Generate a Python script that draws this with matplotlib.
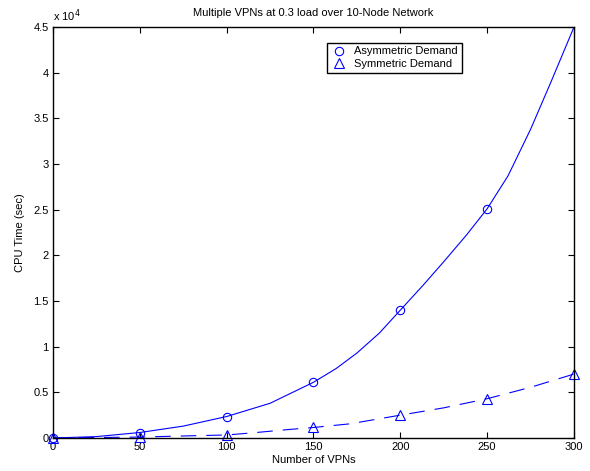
import matplotlib
matplotlib.use("Agg")
import matplotlib.pyplot as plt
from matplotlib.ticker import FuncFormatter, MultipleLocator

plt.rcParams['font.family'] = ['Liberation Sans', 'DejaVu Sans']

# measured run times (sec)
vpns = [0, 50, 100, 150, 200, 250]
asym_cpu = [0, 600, 2350, 6100, 14000, 25100]
vpns_sym = [0, 50, 100, 150, 200, 250, 300]
sym_cpu = [0, 100, 330, 1150, 2500, 4300, 7000]

# trend curves
asym_fit_x = [0, 25, 50, 75, 100, 125, 150, 163, 175, 188, 200, 213, 225, 238, 250,
              262, 275, 287, 300]
asym_fit_y = [0, 150, 600, 1300, 2350, 3800, 6100, 7600, 9300, 11500, 14000, 16700,
              19300, 22200, 25100, 28700, 33800, 39100, 45000]
sym_fit_x = [0, 50, 75, 100, 116, 134, 150, 171, 200, 225, 250, 275, 300]
sym_fit_y = [0, 100, 220, 330, 580, 900, 1150, 1550, 2500, 3300, 4300, 5550, 7000]

fig = plt.figure(figsize=(5.9, 4.71), dpi=100)
ax = fig.add_axes([0.0898, 0.0701, 0.8831, 0.8726])

ax.plot(asym_fit_x, asym_fit_y, color='blue', lw=0.8)
ax.plot(sym_fit_x, sym_fit_y, color='blue', lw=0.8, dashes=(14, 9))
ax.plot(vpns, asym_cpu, 'o', color='blue', mfc='none', ms=6, mew=0.8,
        label='Asymmetric Demand', clip_on=False)
ax.plot(vpns_sym, sym_cpu, '^', color='blue', mfc='none', ms=6.5, mew=0.8,
        label='Symmetric Demand', clip_on=False)

ax.set_xlim(0, 300)
ax.set_ylim(0, 45000)
ax.xaxis.set_major_locator(MultipleLocator(50))
ax.yaxis.set_major_locator(MultipleLocator(5000))
ax.yaxis.set_major_formatter(FuncFormatter(lambda v, p: '%g' % (v / 1e4)))
ax.tick_params(direction='in', length=4, width=0.8, top=True, right=True,
               labelsize=8, pad=3)
for s in ax.spines.values():
    s.set_linewidth(1.0)

ax.text(0.0, 1.008, r'x 10$^4$', transform=ax.transAxes, fontsize=8,
        ha='left', va='bottom')
ax.set_title('Multiple VPNs at 0.3 load over 10-Node Network', fontsize=8, pad=8)
ax.set_xlabel('Number of VPNs', fontsize=8, labelpad=2)
ax.set_ylabel('CPU Time (sec)', fontsize=8, labelpad=6)

leg = ax.legend(loc='upper left', bbox_to_anchor=(0.526, 0.962), fontsize=8,
                frameon=True, fancybox=False, edgecolor='black', framealpha=1,
                borderpad=0.35, handletextpad=0.6, handlelength=1.5,
                labelspacing=0.25, borderaxespad=0)
leg.get_frame().set_linewidth(1.0)

fig.savefig('out.png', dpi=100)
